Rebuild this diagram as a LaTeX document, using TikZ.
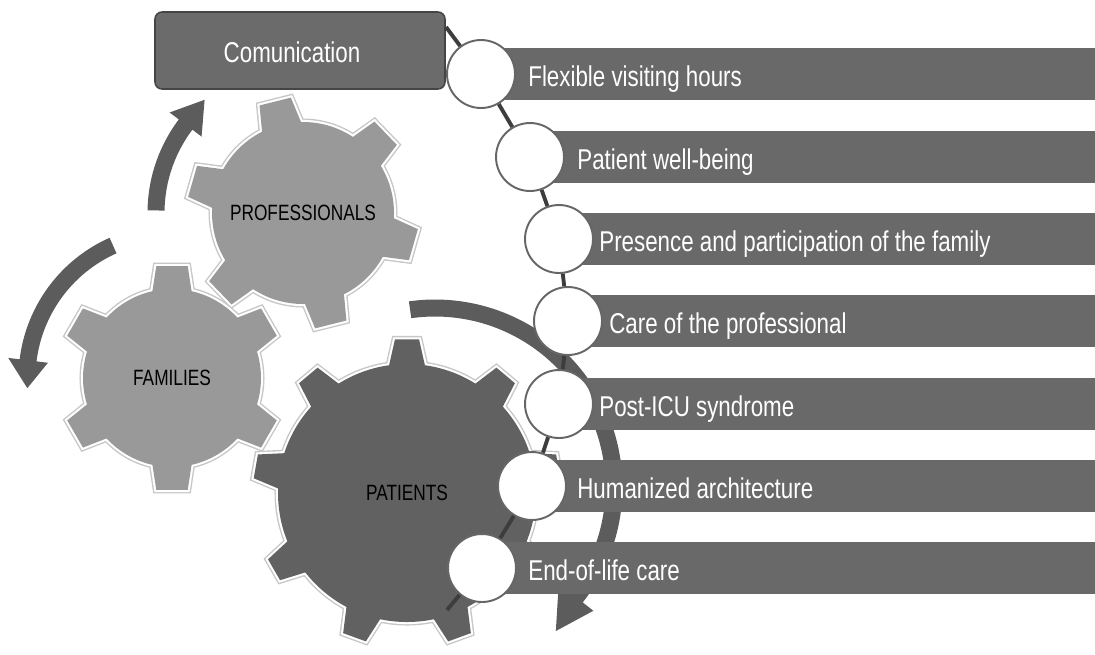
\documentclass[tikz,border=0pt]{standalone}
\usepackage{fontspec}
\setmainfont{Liberation Sans}[FakeStretch=0.78]
\definecolor{barc}{gray}{0.41}
\definecolor{boxc}{gray}{0.42}
\definecolor{boxedge}{gray}{0.27}
\definecolor{darkgear}{gray}{0.38}
\definecolor{lightgear}{gray}{0.60}
\definecolor{arrowc}{gray}{0.36}
\definecolor{connc}{gray}{0.24}
\definecolor{circb}{gray}{0.40}
\definecolor{shadec}{gray}{0.78}
\newcommand\drawgear[7]{%
  \foreach \st in {gearshade,gearwhite}{%
    \draw[\st] (0,0) circle[radius=#2];
    \foreach \k in {1,...,#1}{%
      \pgfmathsetmacro\ta{#6+\k*360/#1}%
      \draw[\st] ({\ta-#4}:{#2-3}) -- ({\ta-#5}:#3) -- ({\ta+#5}:#3) -- ({\ta+#4}:{#2-3}) -- cycle;
    }%
  }%
  \fill[#7] (0,0) circle[radius=#2];
  \foreach \k in {1,...,#1}{%
    \pgfmathsetmacro\ta{#6+\k*360/#1}%
    \fill[#7] ({\ta-#4}:{#2-3}) -- ({\ta-#5}:#3) -- ({\ta+#5}:#3) -- ({\ta+#4}:{#2-3}) -- cycle;
  }%
}
\begin{document}
\begin{tikzpicture}[x=0.02cm,y=-0.02cm,
  gearshade/.style={draw=shadec, line width=4pt, line join=miter},
  gearwhite/.style={draw=white, line width=2.4pt, line join=miter},
  bartext/.style={text=white, font=\fontsize{16.3}{19}\selectfont, anchor=base west, inner sep=0pt},
  gearlabel/.style={text=black, font=\fontsize{12.6}{15}\selectfont, inner sep=0pt},
  dot/.style={circle, fill=white, draw=circb, line width=1.1pt, minimum size=1.36cm, inner sep=0pt},
  conn/.style={draw=connc, line width=2.2pt},
  commbox/.style={rounded corners=4pt, fill=boxc, draw=boxedge, line width=0.9pt,
    minimum width=5.8cm, minimum height=1.54cm},
  commtext/.style={text=white, font=\fontsize{16.3}{19}\selectfont, anchor=base, inner sep=0pt},
  arrowfill/.style={fill=arrowc}]
\useasboundingbox (0,0) rectangle (1095,654);
\clip (0,0) rectangle (1095,654);

% gears
\begin{scope}[shift={(303,213)}]
  \drawgear{6}{91}{116}{13.5}{8}{-104}{lightgear}
  \node[gearlabel] (prof) at (0,0) {PROFESSIONALS};
\end{scope}
\begin{scope}[shift={(172,378)}]
  \drawgear{6}{89}{113}{13.5}{8}{-90}{lightgear}
  \node[gearlabel] (fam) at (0,0) {FAMILIES};
\end{scope}
\begin{scope}[shift={(407,493)}]
  \drawgear{9}{129}{154}{8.5}{4.5}{-90}{darkgear}
  \node[gearlabel] (pat) at (0,0) {PATIENTS};
\end{scope}

% curved arrows
\begin{scope}[shift={(303,213)}]
  \fill[arrowfill] plot[domain=181:217,samples=40] ({\x}:155.5) -- (217:167) -- (229:150)
    -- (217:127) -- plot[domain=217:181,samples=40] ({\x}:138.5) -- cycle;
\end{scope}
\begin{scope}[shift={(172,378)}]
  \fill[arrowfill] plot[domain=246:187,samples=40] ({\x}:153.5) -- (187:165) -- (176:145)
    -- (187:125) -- plot[domain=187:246,samples=40] ({\x}:136.5) -- cycle;
\end{scope}
\begin{scope}[shift={(435,487)}]
  \fill[arrowfill] plot[domain=-98:38,samples=80] ({\x}:187.5) -- (38:201) -- (50:188)
    -- (38:157) -- plot[domain=38:-98,samples=80] ({\x}:170.5) -- cycle;
\end{scope}

% communication box
\node[commbox] (comm) at (300,50.5) {};
\node[commtext] (commlab) at (292,62) {Comunication};
\coordinate (cstart) at (446,27);
\coordinate (cend) at (447,610);

% bars
\foreach \cx/\cy/\tx/\txt [count=\i] in {
  481/74/528/Flexible visiting hours,
  530/157/577/Patient well-being,
  559/239/599/Presence and participation of the family,
  568/321/609/Care of the professional,
  559/404/599/Post-ICU syndrome,
  532/486/577/Humanized architecture,
  482/568/528/End-of-life care}{
  \fill[barc] (\cx,\cy-26) rectangle (1100,\cy+26);
  \node[bartext] (lab\i) at (\tx,\cy+12.5) {\txt};
}

% circles
\foreach \cx/\cy [count=\i] in {481/74,530/157,559/239,568/321,559/404,532/486,482/568}{
  \node[dot] (c\i) at (\cx,\cy) {};
}

% connector
\draw[conn] (cstart) -- (c1) -- (c2) -- (c3) -- (c4) -- (c5) -- (c6) -- (c7) -- (cend);
\end{tikzpicture}
\end{document}
